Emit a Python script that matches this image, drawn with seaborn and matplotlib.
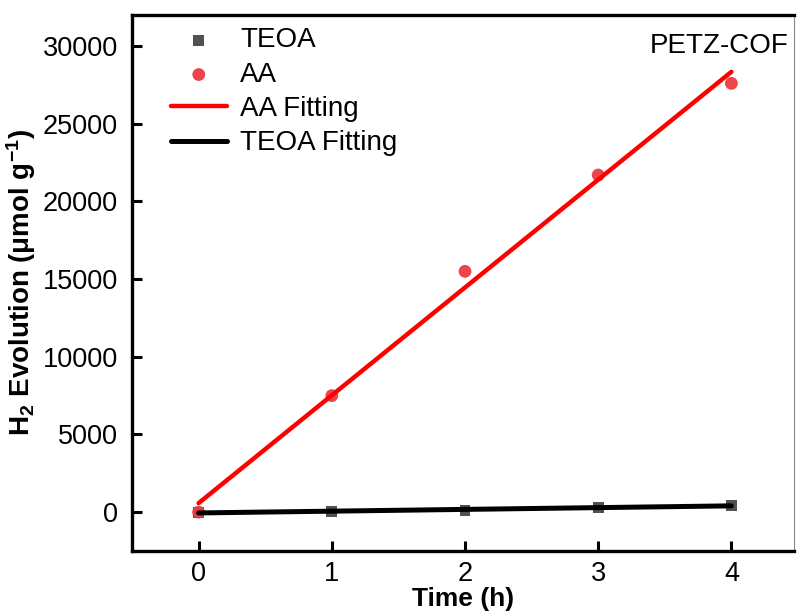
import numpy as np
import pandas as pd
import matplotlib
matplotlib.use("Agg")
import matplotlib.pyplot as plt
import seaborn as sns

# ---- data ----
time_h = [0, 1, 2, 3, 4]
teoa_h2 = [0, 40, 120, 280, 450]
aa_h2 = [0, 7500, 15500, 21700, 27600]
x_ticks = [0, 1, 2, 3, 4]
y_ticks = [0, 5000, 10000, 15000, 20000, 25000, 30000]

sns.set_style("ticks")
plt.rcParams["font.family"] = ["Liberation Sans", "DejaVu Sans"]
plt.rcParams["mathtext.fontset"] = "custom"
plt.rcParams["mathtext.rm"] = "Liberation Sans"
plt.rcParams["mathtext.bf"] = "Liberation Sans:bold"
plt.rcParams["mathtext.it"] = "Liberation Sans:italic"
plt.rcParams["text.color"] = "black"
plt.rcParams["axes.labelcolor"] = "black"
plt.rcParams["xtick.color"] = "black"
plt.rcParams["ytick.color"] = "black"

fig = plt.figure(figsize=(7.97, 6.14), dpi=100)
ax = fig.add_axes([132 / 797, (614 - 551) / 614, (794 - 132) / 797, (551 - 15) / 614])

df = pd.DataFrame({"t": time_h, "teoa": teoa_h2, "aa": aa_h2})

# linear fits
aa_fit = np.polyfit(time_h, aa_h2, 1)
teoa_fit = np.polyfit(time_h, teoa_h2, 1)
fit_df = pd.DataFrame({
    "t": time_h,
    "aa_fit": np.polyval(aa_fit, time_h),
    "teoa_fit": np.polyval(teoa_fit, time_h),
})

sns.scatterplot(data=df, x="t", y="teoa", marker="s", s=60, color="#333333",
                alpha=0.85, edgecolor="none", label="TEOA", ax=ax, zorder=2)
sns.scatterplot(data=df, x="t", y="aa", marker="o", s=85, color="#ee3b43",
                alpha=0.95, edgecolor="none", label="AA", ax=ax, zorder=2)
sns.lineplot(data=fit_df, x="t", y="aa_fit", color="#ff0000", lw=3.2,
             label="AA Fitting", ax=ax, zorder=3)
sns.lineplot(data=fit_df, x="t", y="teoa_fit", color="#000000", lw=3.6,
             label="TEOA Fitting", ax=ax, zorder=4)

ax.set_xlim(-0.5, 4.47)
ax.set_ylim(-2500, 32000)
ax.set_xticks(x_ticks)
ax.set_yticks(y_ticks)
ax.set_xticklabels([str(v) for v in x_ticks])
ax.set_yticklabels([str(v) for v in y_ticks])

ax.tick_params(direction="in", length=7.5, width=2.2, labelsize=19.5, pad=7,
               colors="black")
ax.tick_params(axis="y", pad=10)

for side in ["left", "bottom", "top"]:
    ax.spines[side].set_linewidth(2.4)
    ax.spines[side].set_color("black")
ax.spines["right"].set_linewidth(0.8)
ax.spines["right"].set_color("#888888")

ax.set_xlabel("Time (h)", fontsize=19, fontweight="bold", labelpad=0)
ax.set_ylabel(r"H$_{\mathbf{2}}$ Evolution (μmol g$^{\mathbf{-1}}$)",
              fontsize=20, fontweight="bold")
ax.yaxis.set_label_coords(-0.142, 0.5)

ax.text(0.992, 0.942, "PETZ-COF", transform=ax.transAxes, ha="right",
        va="center", fontsize=20)

leg = ax.legend(loc="upper left", bbox_to_anchor=(0.040, 1.0), frameon=False,
                fontsize=20, handlelength=2.0, handletextpad=0.5,
                labelspacing=0.3, borderpad=0.45, borderaxespad=0)

fig.savefig("out.png", dpi=100)
